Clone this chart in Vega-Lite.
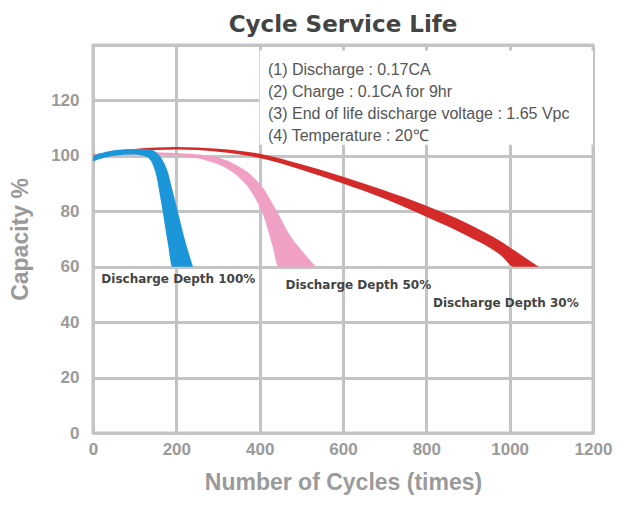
{
"$schema":"https://vega.github.io/schema/vega-lite/v6.json",
"width":500,"height":388,
"autosize":"none",
"padding":{"left":93,"top":45,"right":35,"bottom":85},
"background":"white",
"title":{"text":"Cycle Service Life","font":"DejaVu Sans","fontSize":23,"fontWeight":"bold","color":"#444","offset":8},
"config":{"view":{"stroke":"#c4c4c4","strokeWidth":3},
"axis":{"gridColor":"#c4c4c4","gridWidth":3,"domain":false,"ticks":false,"labelFlush":false,"labelFont":"Liberation Sans","labelFontSize":17,"labelFontWeight":"bold","labelColor":"#9a9a9a","titleFont":"Liberation Sans","titleFontSize":23,"titleFontWeight":"bold","titleColor":"#9a9a9a"}},
"datasets":{
"blue":[{"x":0,"lo":98,"hi":100},{"x":50,"lo":100,"hi":102},{"x":100,"lo":100.5,"hi":102.5},{"x":130,"lo":99.5,"hi":102.5},{"x":150,"lo":94,"hi":101.5},{"x":165,"lo":82,"hi":99},{"x":180,"lo":68,"hi":94},{"x":190,"lo":60,"hi":88},{"x":205,"lo":60,"hi":79},{"x":220,"lo":60,"hi":70},{"x":240,"lo":60,"hi":60}],
"pink":[{"x":0,"lo":99.5,"hi":100.5},{"x":100,"lo":100.5,"hi":101.5},{"x":200,"lo":100,"hi":101},{"x":280,"lo":98,"hi":100},{"x":340,"lo":93.5,"hi":97},{"x":380,"lo":87,"hi":93},{"x":410,"lo":78,"hi":88},{"x":430,"lo":68,"hi":83},{"x":445,"lo":60,"hi":79},{"x":470,"lo":60,"hi":72},{"x":500,"lo":60,"hi":66},{"x":535,"lo":60,"hi":60}],
"red":[{"x":0,"lo":99.5,"hi":100.5},{"x":100,"lo":101.5,"hi":102.5},{"x":200,"lo":102.3,"hi":103.2},{"x":300,"lo":101.5,"hi":102.6},{"x":400,"lo":99.2,"hi":100.8},{"x":500,"lo":95,"hi":97},{"x":600,"lo":90,"hi":92.5},{"x":700,"lo":84.5,"hi":87.5},{"x":800,"lo":78,"hi":82},{"x":900,"lo":71,"hi":75.5},{"x":980,"lo":64,"hi":69},{"x":1010,"lo":60,"hi":66},{"x":1040,"lo":60,"hi":63},{"x":1070,"lo":60,"hi":60}],
"box":[{"x":400,"x2":1200,"y":104,"y2":138}],
"notes":[{"x":420,"y":131,"t":"(1) Discharge : 0.17CA"},{"x":420,"y":123,"t":"(2) Charge : 0.1CA for 9hr"},{"x":420,"y":115,"t":"(3) End of life discharge voltage : 1.65 Vpc"},{"x":420,"y":107,"t":"(4) Temperature : 20℃"}],
"labels":[{"x":20,"y":55.5,"t":"Discharge Depth 100%"},{"x":462,"y":53.5,"t":"Discharge Depth 50%"},{"x":816,"y":47,"t":"Discharge Depth 30%"}]
},
"layer":[
{"data":{"name":"box"},"mark":{"type":"rect","fill":"white"},
"encoding":{"x":{"field":"x","type":"quantitative","scale":{"domain":[0,1200]},"axis":{"values":[0,200,400,600,800,1000,1200],"format":"d","title":"Number of Cycles (times)","titlePadding":14,"labelPadding":8}},
"x2":{"field":"x2"},
"y":{"field":"y","type":"quantitative","scale":{"domain":[0,140]},"axis":{"values":[0,20,40,60,80,100,120,140],"labelExpr":"datum.value==140?'':datum.label","title":"Capacity %","titlePadding":18,"labelPadding":14}},
"y2":{"field":"y2"}}},
{"data":{"name":"red"},"mark":{"type":"area","color":"#d42a2a","interpolate":"monotone"},"encoding":{"x":{"field":"x","type":"quantitative"},"y":{"field":"lo","type":"quantitative"},"y2":{"field":"hi"}}},
{"data":{"name":"pink"},"mark":{"type":"area","color":"#f0a0c4","interpolate":"monotone"},"encoding":{"x":{"field":"x","type":"quantitative"},"y":{"field":"lo","type":"quantitative"},"y2":{"field":"hi"}}},
{"data":{"name":"blue"},"mark":{"type":"area","color":"#1b97d9","interpolate":"monotone"},"encoding":{"x":{"field":"x","type":"quantitative"},"y":{"field":"lo","type":"quantitative"},"y2":{"field":"hi"}}},
{"data":{"name":"notes"},"mark":{"type":"text","align":"left","font":"Liberation Sans","fontSize":16,"color":"#555"},"encoding":{"x":{"field":"x","type":"quantitative"},"y":{"field":"y","type":"quantitative"},"text":{"field":"t"}}},
{"data":{"name":"labels"},"mark":{"type":"text","align":"left","font":"DejaVu Sans","fontSize":12,"fontWeight":"bold","color":"#444"},"encoding":{"x":{"field":"x","type":"quantitative"},"y":{"field":"y","type":"quantitative"},"text":{"field":"t"}}}
]
}
